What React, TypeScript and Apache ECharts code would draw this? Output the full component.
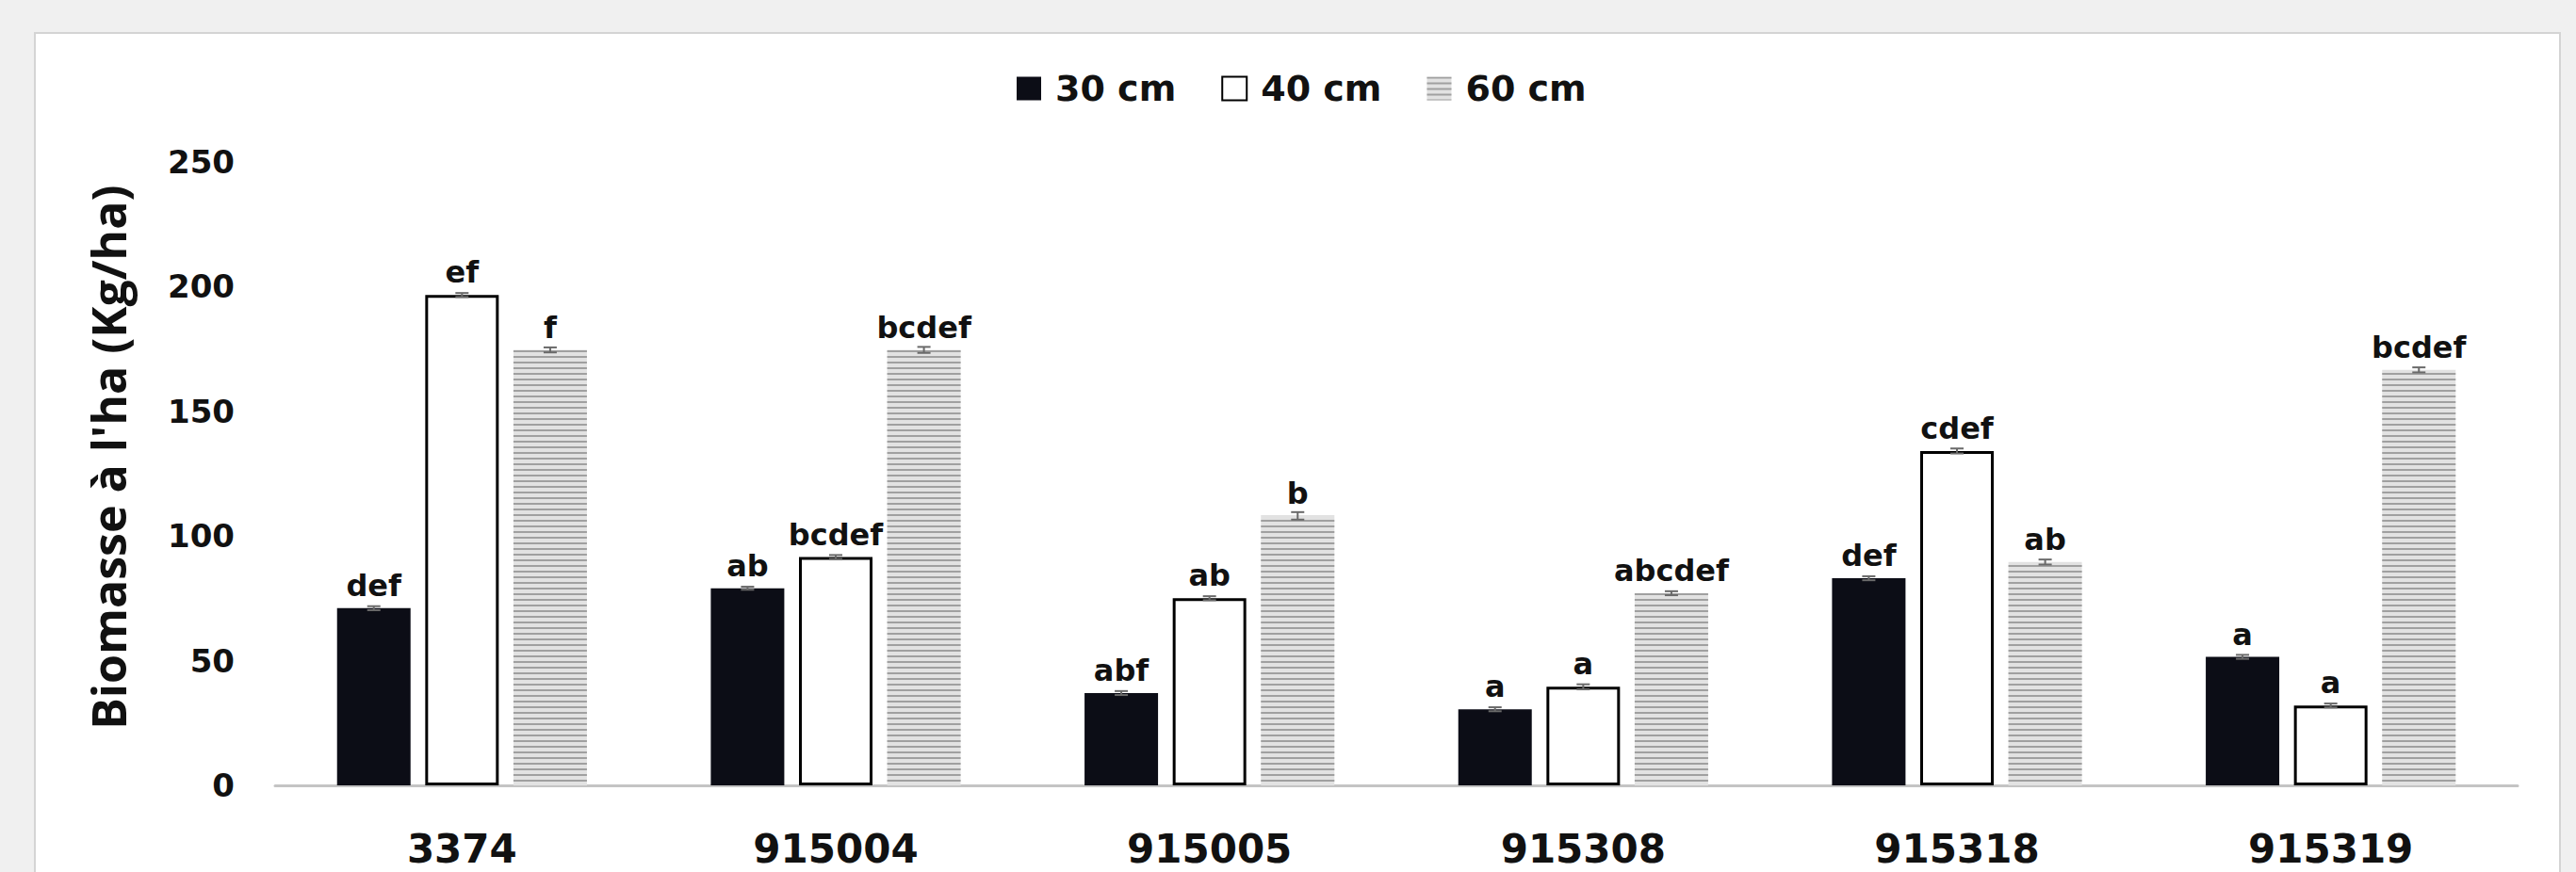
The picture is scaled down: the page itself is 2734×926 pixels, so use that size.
import React, { useEffect, useRef } from 'react';
import * as echarts from 'echarts';

const categories = ['3374', '915004', '915005', '915308', '915318', '915319'];
const seriesNames = ['30 cm', '40 cm', '60 cm'];
const values30 = [71, 79, 37, 30.5, 83, 51.5];
const values40 = [196.5, 91.5, 75, 39.5, 134, 32];
const values60 = [174.5, 174.5, 108, 77, 89.5, 166.5];
const errors30 = [0.8, 0.6, 0.8, 0.8, 0.8, 0.8];
const errors40 = [0.8, 0.8, 0.8, 1, 1, 0.8];
const errors60 = [1, 1.2, 1.5, 0.8, 1, 1];
const letters30 = ['def', 'ab', 'abf', 'a', 'def', 'a'];
const letters40 = ['ef', 'bcdef', 'ab', 'a', 'cdef', 'a'];
const letters60 = ['f', 'bcdef', 'b', 'abcdef', 'ab', 'bcdef'];
const yMin = 0;
const yMax = 250;
const yStep = 50;

const BAR_W = 78;
const BAR_GAP = 0.2;

export default function App() {
  const ref = useRef<HTMLDivElement>(null);

  useEffect(() => {
    document.body.style.margin = '0';
    const chart = echarts.init(ref.current!, undefined, { renderer: 'svg' });

    const valueSets = [values30, values40, values60];
    const errorSets = [errors30, errors40, errors60];

    const errData: number[][] = [];
    valueSets.forEach((vals, s) => {
      vals.forEach((v, i) => errData.push([i, v, errorSets[s][i], s]));
    });

    const labelStyle = (letters: string[]) => ({
      show: true,
      position: 'top' as const,
      distance: 8,
      formatter: (p: any) => letters[p.dataIndex],
      fontFamily: 'DejaVu Sans',
      fontWeight: 'bold' as const,
      fontSize: 32,
      color: '#111',
    });

    const option: any = {
      animation: false,
      backgroundColor: '#f0f0f0',
      textStyle: { fontFamily: 'DejaVu Sans' },
      graphic: [
        {
          type: 'rect',
          z: -100,
          silent: true,
          shape: { x: 37, y: 35, width: 2680, height: 905 },
          style: { fill: '#ffffff', stroke: '#d4d4d4', lineWidth: 2 },
        },
      ],
      legend: {
        data: seriesNames,
        left: 1074,
        top: 70,
        icon: 'rect',
        itemWidth: 26,
        itemHeight: 25,
        itemGap: 48,
        textStyle: {
          fontFamily: 'DejaVu Sans',
          fontWeight: 'bold',
          fontSize: 38,
          color: '#111',
          padding: [0, 0, 0, 10],
        },
      },
      grid: { left: 292, right: 62, top: 171.5, bottom: 92, containLabel: false },
      xAxis: {
        type: 'category',
        data: categories,
        axisLine: { show: true, lineStyle: { color: '#c4c4c4', width: 3 } },
        axisTick: { show: false },
        axisLabel: {
          margin: 46,
          fontFamily: 'DejaVu Sans',
          fontWeight: 'bold',
          fontSize: 42,
          color: '#111',
        },
      },
      yAxis: {
        type: 'value',
        min: yMin,
        max: yMax,
        interval: yStep,
        name: "Biomasse à l'ha (Kg/ha)",
        nameLocation: 'middle',
        nameRotate: 90,
        nameGap: 152,
        nameTextStyle: {
          fontFamily: 'Open Sans',
          fontWeight: 'bold',
          fontSize: 50,
          color: '#111',
          padding: [0, 0, 0, 34],
        },
        axisLine: { show: false },
        axisTick: { show: false },
        splitLine: { show: false },
        axisLabel: {
          margin: 43,
          fontFamily: 'DejaVu Sans',
          fontWeight: 'bold',
          fontSize: 34,
          color: '#111',
        },
      },
      series: [
        {
          name: seriesNames[0],
          type: 'bar',
          data: values30,
          barWidth: BAR_W,
          barGap: BAR_GAP * 100 + '%',
          itemStyle: { color: '#0c0d16' },
          label: labelStyle(letters30),
        },
        {
          name: seriesNames[1],
          type: 'bar',
          data: values40,
          barWidth: BAR_W,
          barGap: BAR_GAP * 100 + '%',
          itemStyle: { color: '#ffffff', borderColor: '#000000', borderWidth: 3 },
          label: labelStyle(letters40),
        },
        {
          name: seriesNames[2],
          type: 'bar',
          data: values60,
          barWidth: BAR_W,
          barGap: BAR_GAP * 100 + '%',
          itemStyle: {
            color: '#e2e2e2',
            decal: {
              symbol: 'rect',
              symbolSize: 1,
              dashArrayX: [1, 0],
              dashArrayY: [2, 4],
              rotation: 0,
              color: '#a0a0a0',
            },
          },
          label: labelStyle(letters60),
        },
        {
          name: 'err',
          type: 'custom',
          data: errData,
          silent: true,
          z: 5,
          renderItem: (params: any, api: any) => {
            const i = api.value(0);
            const v = api.value(1);
            const e = api.value(2);
            const s = api.value(3);
            const hi = api.coord([i, v + e]);
            const lo = api.coord([i, v - e]);
            const x = hi[0] + (s - 1) * BAR_W * (1 + BAR_GAP);
            const cap = 7;
            const st = { stroke: '#6a6a6a', lineWidth: 2 };
            return {
              type: 'group',
              children: [
                { type: 'line', shape: { x1: x, y1: hi[1], x2: x, y2: lo[1] }, style: st },
                { type: 'line', shape: { x1: x - cap, y1: hi[1], x2: x + cap, y2: hi[1] }, style: st },
                { type: 'line', shape: { x1: x - cap, y1: lo[1], x2: x + cap, y2: lo[1] }, style: st },
              ],
            };
          },
        },
      ],
    };

    chart.setOption(option);
    return () => chart.dispose();
  }, []);

  return (
    <div
      ref={ref}
      style={{ position: 'fixed', left: 0, top: 0, width: 2734, height: 926 }}
    />
  );
}
